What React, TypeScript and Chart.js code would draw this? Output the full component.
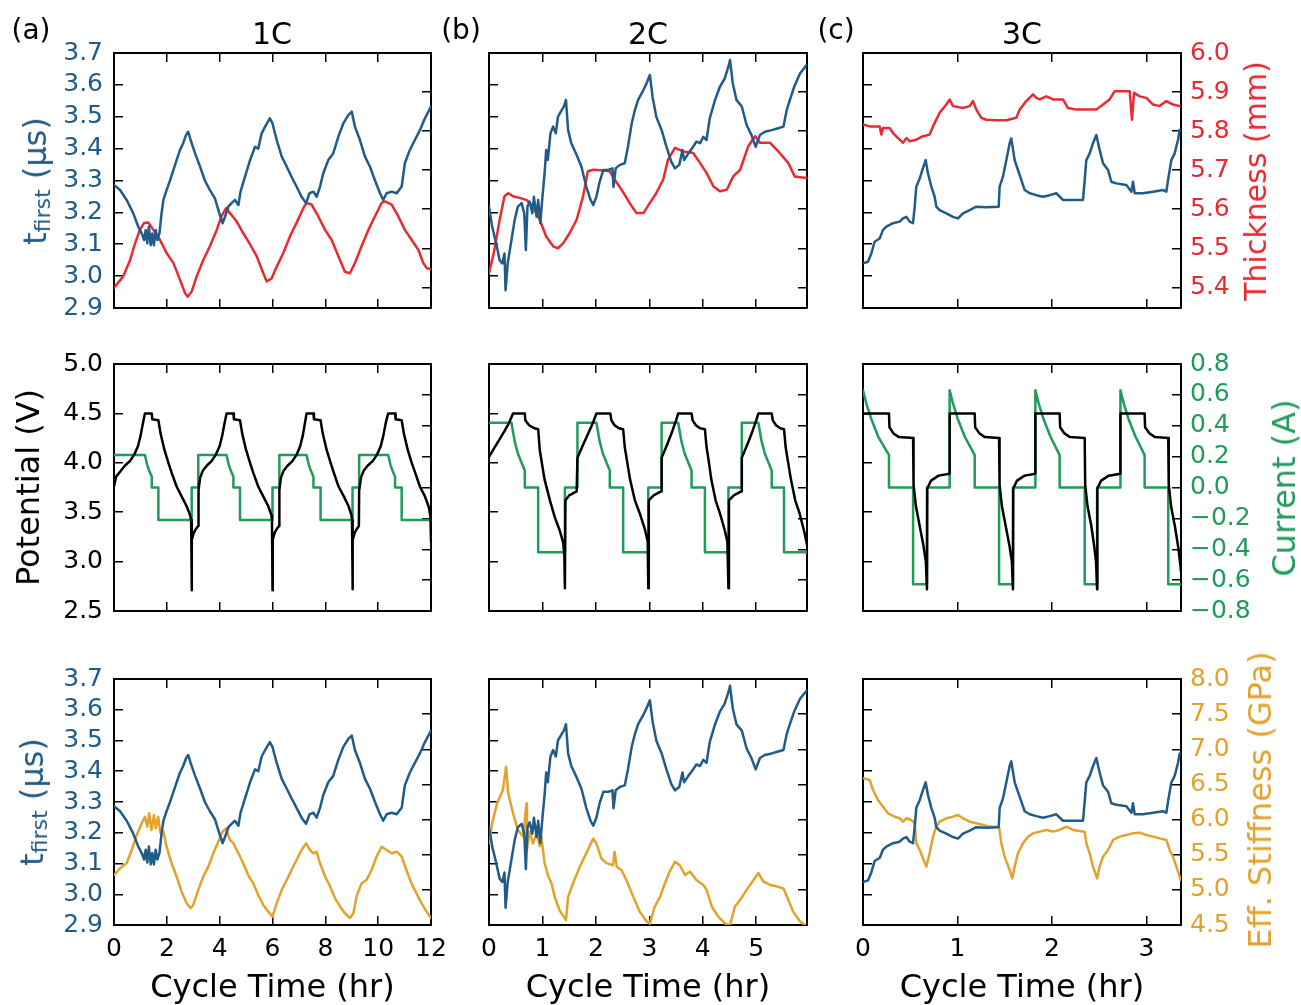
import React, { useEffect, useRef } from 'react';
import { Chart, registerables } from 'chart.js';

Chart.register(...registerables);

const FONT = "'DejaVu Sans', 'Bitstream Vera Sans', sans-serif";
const BLUE = '#215b88';
const RED = '#ea2a30';
const GREEN = '#1f9b5a';
const ORANGE = '#e3a22c';
const BLACK = '#000000';

type P = [number, number][];

// ---------- axis ranges [min, max, step] ----------
const tFirstRange = [2.9, 3.7, 0.1];
const thicknessRange = [5.347, 6.0, 0.1];
const potentialRange = [2.5, 5.0, 0.5];
const currentRange = [-0.8, 0.8, 0.2];
const stiffnessRange = [4.5, 8.0, 0.5];
const time1C = [0, 12, 2];
const time2C = [0, 5.95, 1];
const time3C = [0, 3.365, 1];

// ---------- 1C ----------
const tFirst1C: P = [
  [0, 3.286], [0.23, 3.27], [0.48, 3.239], [0.73, 3.197], [0.92, 3.155], [1.05, 3.134], [1.14, 3.113],
  [1.2, 3.145], [1.26, 3.103], [1.32, 3.155], [1.39, 3.097], [1.45, 3.134], [1.51, 3.097], [1.58, 3.145],
  [1.64, 3.113], [1.72, 3.134], [1.8, 3.197], [1.87, 3.239], [1.99, 3.27], [2.12, 3.3], [2.25, 3.333],
  [2.37, 3.364], [2.5, 3.396], [2.62, 3.417], [2.73, 3.443], [2.81, 3.453], [2.9, 3.427], [3.07, 3.385],
  [3.26, 3.343], [3.44, 3.3], [3.63, 3.27], [3.82, 3.244], [3.99, 3.197], [4.11, 3.166], [4.2, 3.186],
  [4.33, 3.218], [4.45, 3.229], [4.58, 3.239], [4.71, 3.223], [4.79, 3.265], [4.96, 3.312], [5.15, 3.364],
  [5.34, 3.406], [5.46, 3.4], [5.59, 3.448], [5.72, 3.469], [5.9, 3.495], [6.0, 3.479], [6.16, 3.427],
  [6.35, 3.375], [6.54, 3.343], [6.72, 3.312], [6.91, 3.281], [7.1, 3.249], [7.27, 3.229], [7.4, 3.26],
  [7.55, 3.265], [7.67, 3.249], [7.8, 3.281], [7.92, 3.322], [8.11, 3.364], [8.3, 3.385], [8.49, 3.437],
  [8.68, 3.479], [8.87, 3.505], [9.0, 3.516], [9.12, 3.469], [9.31, 3.427], [9.5, 3.375], [9.69, 3.343],
  [9.88, 3.3], [10.07, 3.26], [10.19, 3.239], [10.32, 3.26], [10.51, 3.265], [10.7, 3.26], [10.89, 3.281],
  [11.01, 3.354], [11.2, 3.396], [11.39, 3.427], [11.58, 3.458], [11.77, 3.495], [12.0, 3.532],
];

const thickness1C: P = [
  [0, 5.399], [0.35, 5.428], [0.61, 5.47], [0.8, 5.513], [0.98, 5.547], [1.14, 5.565], [1.3, 5.566],
  [1.49, 5.547], [1.74, 5.521], [1.99, 5.488], [2.25, 5.462], [2.5, 5.419], [2.69, 5.385], [2.79, 5.376],
  [2.94, 5.389], [3.13, 5.428], [3.38, 5.47], [3.63, 5.505], [3.89, 5.547], [4.07, 5.582], [4.24, 5.603],
  [4.39, 5.59], [4.64, 5.569], [4.89, 5.539], [5.15, 5.51], [5.4, 5.48], [5.65, 5.436], [5.78, 5.415],
  [5.97, 5.423], [6.16, 5.453], [6.41, 5.488], [6.66, 5.53], [6.91, 5.565], [7.17, 5.603], [7.29, 5.616],
  [7.48, 5.612], [7.73, 5.582], [7.99, 5.547], [8.24, 5.521], [8.49, 5.48], [8.74, 5.44], [8.93, 5.436],
  [9.12, 5.462], [9.37, 5.505], [9.63, 5.547], [9.88, 5.582], [10.13, 5.616], [10.26, 5.62], [10.51, 5.612],
  [10.76, 5.582], [11.01, 5.547], [11.27, 5.521], [11.52, 5.496], [11.71, 5.462], [11.84, 5.449], [12.0, 5.447],
];

const potential1C: P = [
  [0, 3.76], [0.08, 3.86], [0.26, 3.92], [0.41, 3.97], [0.61, 4.02], [0.76, 4.08], [0.91, 4.17], [1.01, 4.28],
  [1.11, 4.42], [1.17, 4.5], [1.43, 4.5], [1.45, 4.44], [1.68, 4.43], [1.76, 4.3], [1.91, 4.13], [2.06, 4.0],
  [2.18, 3.9], [2.37, 3.76], [2.56, 3.66], [2.75, 3.56], [2.88, 3.47], [2.92, 3.42], [2.94, 2.71],
  [2.95, 3.22], [3.02, 3.29], [3.1, 3.33], [3.19, 3.36], [3.2, 3.72], [3.26, 3.85], [3.36, 3.92], [3.51, 3.97],
  [3.7, 4.02], [3.85, 4.08], [4.0, 4.17], [4.1, 4.28], [4.2, 4.42], [4.26, 4.5], [4.52, 4.5], [4.54, 4.44],
  [4.77, 4.43], [4.85, 4.3], [5.0, 4.13], [5.15, 4.0], [5.27, 3.9], [5.46, 3.76], [5.65, 3.66], [5.84, 3.56],
  [5.96, 3.47], [5.98, 3.42], [6.0, 2.71],
  [6.01, 3.22], [6.08, 3.29], [6.16, 3.33], [6.25, 3.36], [6.26, 3.72], [6.32, 3.85], [6.42, 3.92], [6.57, 3.97],
  [6.76, 4.02], [6.91, 4.08], [7.05, 4.17], [7.15, 4.28], [7.24, 4.42], [7.29, 4.5], [7.55, 4.5], [7.57, 4.44],
  [7.82, 4.43], [7.9, 4.3], [8.05, 4.13], [8.2, 4.0], [8.32, 3.9], [8.5, 3.76], [8.7, 3.66], [8.88, 3.56],
  [8.99, 3.47], [9.01, 3.42], [9.03, 2.72],
  [9.04, 3.22], [9.11, 3.29], [9.19, 3.33], [9.27, 3.36], [9.28, 3.72], [9.35, 3.85], [9.45, 3.92], [9.6, 3.97],
  [9.8, 4.02], [9.95, 4.08], [10.1, 4.17], [10.2, 4.28], [10.3, 4.42], [10.38, 4.5], [10.64, 4.5], [10.66, 4.44],
  [10.89, 4.43], [10.97, 4.3], [11.12, 4.13], [11.27, 4.0], [11.4, 3.9], [11.58, 3.76], [11.77, 3.66],
  [11.92, 3.55], [11.98, 3.45], [12.0, 3.2],
];

const current1C: P = [
  [0, 0.21], [1.17, 0.21], [1.25, 0.15], [1.33, 0.11], [1.43, 0.07], [1.43, 0], [1.68, 0], [1.68, -0.21],
  [2.94, -0.21], [2.94, 0], [3.19, 0], [3.19, 0.21], [4.26, 0.21], [4.34, 0.15], [4.42, 0.11], [4.52, 0.07],
  [4.52, 0], [4.77, 0], [4.77, -0.21], [6.0, -0.21], [6.0, 0], [6.26, 0], [6.26, 0.21], [7.29, 0.21],
  [7.37, 0.15], [7.45, 0.11], [7.55, 0.07], [7.55, 0], [7.82, 0], [7.82, -0.21], [9.03, -0.21], [9.03, 0],
  [9.28, 0], [9.28, 0.21], [10.38, 0.21], [10.46, 0.15], [10.54, 0.11], [10.64, 0.07], [10.64, 0],
  [10.89, 0], [10.89, -0.21], [12.0, -0.21],
];

const stiffness1C: P = [
  [0, 5.21], [0.23, 5.307], [0.48, 5.378], [0.67, 5.567], [0.86, 5.78], [1.05, 5.947], [1.17, 6.04],
  [1.26, 5.9], [1.33, 6.09], [1.42, 5.852], [1.51, 6.065], [1.58, 5.876], [1.67, 6.04], [1.76, 5.804],
  [1.87, 5.83], [1.99, 5.614], [2.18, 5.378], [2.37, 5.19], [2.56, 4.974], [2.75, 4.81], [2.9, 4.737],
  [3.0, 4.786], [3.19, 5.0], [3.38, 5.19], [3.57, 5.33], [3.76, 5.52], [3.95, 5.686], [4.11, 5.83],
  [4.24, 5.876], [4.39, 5.71], [4.52, 5.66], [4.71, 5.52], [4.89, 5.378], [5.08, 5.21], [5.27, 5.093],
  [5.46, 4.927], [5.65, 4.786], [5.84, 4.69], [6.0, 4.62], [6.16, 4.81], [6.35, 5.0], [6.54, 5.14],
  [6.72, 5.283], [6.91, 5.425], [7.1, 5.567], [7.27, 5.662], [7.42, 5.567], [7.55, 5.52], [7.67, 5.543],
  [7.8, 5.378], [7.99, 5.19], [8.18, 5.047], [8.37, 4.88], [8.56, 4.763], [8.74, 4.667], [8.93, 4.6],
  [9.06, 4.667], [9.18, 4.903], [9.37, 5.093], [9.56, 5.14], [9.75, 5.283], [9.94, 5.472], [10.13, 5.614],
  [10.32, 5.567], [10.51, 5.52], [10.7, 5.543], [10.89, 5.472], [11.07, 5.283], [11.26, 5.093],
  [11.45, 4.95], [11.64, 4.81], [11.83, 4.69], [12.0, 4.6],
];

// ---------- 2C ----------
const tFirst2C: P = [
  [0, 3.218], [0.06, 3.155], [0.12, 3.113], [0.2, 3.05], [0.25, 3.04], [0.29, 3.071], [0.31, 2.956],
  [0.35, 3.04], [0.42, 3.113], [0.48, 3.176], [0.54, 3.218], [0.61, 3.229], [0.66, 3.197], [0.69, 3.082],
  [0.72, 3.218], [0.76, 3.234], [0.81, 3.197], [0.84, 3.249], [0.89, 3.186], [0.92, 3.239], [0.96, 3.166],
  [1.0, 3.249], [1.04, 3.322], [1.07, 3.396], [1.1, 3.364], [1.15, 3.448], [1.2, 3.469], [1.25, 3.448],
  [1.29, 3.5], [1.36, 3.521], [1.4, 3.532], [1.44, 3.553], [1.48, 3.458], [1.54, 3.417], [1.64, 3.38],
  [1.73, 3.343], [1.82, 3.281], [1.9, 3.239], [1.95, 3.223], [2.01, 3.249], [2.07, 3.296], [2.14, 3.333],
  [2.23, 3.333], [2.31, 3.338], [2.33, 3.28], [2.37, 3.338], [2.45, 3.349], [2.54, 3.354], [2.6, 3.406],
  [2.67, 3.479], [2.73, 3.521], [2.79, 3.553], [2.89, 3.584], [2.95, 3.606], [3.01, 3.631], [3.06, 3.563],
  [3.13, 3.5], [3.23, 3.458], [3.32, 3.406], [3.41, 3.359], [3.48, 3.338], [3.56, 3.349], [3.62, 3.396],
  [3.65, 3.364], [3.73, 3.385], [3.82, 3.406], [3.88, 3.422], [3.95, 3.417], [4.01, 3.437], [4.07, 3.427],
  [4.13, 3.495], [4.23, 3.553], [4.32, 3.594], [4.41, 3.62], [4.48, 3.657], [4.51, 3.678], [4.56, 3.606],
  [4.63, 3.553], [4.73, 3.532], [4.82, 3.474], [4.91, 3.443], [4.99, 3.406], [5.07, 3.443], [5.16, 3.453],
  [5.29, 3.458], [5.41, 3.464], [5.51, 3.469], [5.57, 3.521], [5.63, 3.553], [5.71, 3.594], [5.82, 3.636],
  [5.94, 3.662],
];

const thickness2C: P = [
  [0, 5.436], [0.09, 5.488], [0.2, 5.573], [0.29, 5.633], [0.36, 5.641], [0.45, 5.633], [0.57, 5.629],
  [0.7, 5.624], [0.82, 5.607], [0.95, 5.573], [1.07, 5.53], [1.2, 5.505], [1.29, 5.5], [1.39, 5.513],
  [1.51, 5.539], [1.64, 5.573], [1.76, 5.633], [1.85, 5.697], [1.95, 5.701], [2.14, 5.699], [2.26, 5.697],
  [2.35, 5.676], [2.48, 5.65], [2.63, 5.616], [2.76, 5.59], [2.89, 5.59], [3.01, 5.616], [3.13, 5.641],
  [3.26, 5.676], [3.35, 5.727], [3.48, 5.757], [3.63, 5.748], [3.82, 5.744], [3.95, 5.718], [4.07, 5.693],
  [4.2, 5.658], [4.32, 5.646], [4.45, 5.65], [4.57, 5.684], [4.7, 5.701], [4.85, 5.761], [4.98, 5.787],
  [5.07, 5.77], [5.26, 5.77], [5.44, 5.744], [5.6, 5.718], [5.72, 5.684], [5.94, 5.68],
];

const potential2C: P = [
  [0, 4.06], [0.1, 4.15], [0.2, 4.24], [0.3, 4.33], [0.38, 4.41], [0.45, 4.5], [0.67, 4.5], [0.68, 4.43],
  [0.75, 4.38], [0.85, 4.35], [0.92, 4.34], [0.95, 4.13], [1.0, 3.96], [1.04, 3.83], [1.14, 3.62],
  [1.23, 3.45], [1.32, 3.32], [1.39, 3.19], [1.41, 3.05], [1.42, 2.73],
  [1.43, 3.62], [1.5, 3.67], [1.64, 3.71],
  [1.655, 4.05], [1.75, 4.17], [1.85, 4.29], [1.95, 4.41], [2.01, 4.5], [2.27, 4.5], [2.29, 4.43],
  [2.35, 4.38], [2.43, 4.35], [2.51, 4.34], [2.54, 4.16], [2.57, 4.06], [2.64, 3.83], [2.73, 3.62],
  [2.82, 3.49], [2.92, 3.32], [2.97, 3.2], [2.98, 2.73],
  [2.99, 3.62], [3.08, 3.67], [3.22, 3.71],
  [3.23, 4.05], [3.33, 4.18], [3.43, 4.32], [3.5, 4.43], [3.54, 4.5], [3.79, 4.5], [3.81, 4.43],
  [3.87, 4.38], [3.95, 4.35], [4.04, 4.34], [4.07, 4.16], [4.1, 4.06], [4.16, 3.83], [4.24, 3.62],
  [4.32, 3.49], [4.41, 3.32], [4.46, 3.2], [4.48, 2.73],
  [4.49, 3.62], [4.58, 3.67], [4.72, 3.71],
  [4.73, 4.05], [4.83, 4.18], [4.93, 4.32], [5.0, 4.43], [5.04, 4.5], [5.29, 4.5], [5.31, 4.43],
  [5.37, 4.38], [5.45, 4.35], [5.52, 4.34], [5.55, 4.16], [5.58, 4.06], [5.65, 3.83], [5.73, 3.62],
  [5.81, 3.49], [5.9, 3.3], [5.95, 3.17],
];

const current2C: P = [
  [0, 0.42], [0.42, 0.42], [0.48, 0.3], [0.54, 0.22], [0.61, 0.16], [0.67, 0.11], [0.67, 0], [0.92, 0],
  [0.92, -0.42], [1.42, -0.42], [1.42, 0], [1.655, 0], [1.655, 0.42], [2.01, 0.42], [2.07, 0.3],
  [2.13, 0.22], [2.2, 0.16], [2.26, 0.11], [2.26, 0], [2.51, 0], [2.51, -0.42], [2.98, -0.42], [2.98, 0],
  [3.23, 0], [3.23, 0.42], [3.54, 0.42], [3.6, 0.3], [3.66, 0.22], [3.73, 0.16], [3.79, 0.11], [3.79, 0],
  [4.04, 0], [4.04, -0.42], [4.48, -0.42], [4.48, 0], [4.73, 0], [4.73, 0.42], [5.04, 0.42], [5.1, 0.3],
  [5.16, 0.22], [5.23, 0.16], [5.29, 0.11], [5.29, 0], [5.52, 0], [5.52, -0.42], [5.95, -0.42],
];

const stiffness2C: P = [
  [0, 5.66], [0.06, 5.95], [0.15, 6.23], [0.26, 6.42], [0.32, 6.75], [0.36, 6.37], [0.45, 6.09],
  [0.54, 5.85], [0.64, 5.76], [0.7, 6.23], [0.71, 5.57], [0.76, 5.83], [0.82, 5.66], [0.89, 5.8],
  [0.95, 5.62], [0.98, 5.76], [1.01, 5.57], [1.04, 5.38], [1.11, 5.19], [1.17, 5.09], [1.23, 4.9],
  [1.32, 4.71], [1.44, 4.57], [1.48, 4.9], [1.57, 5.09], [1.7, 5.33], [1.82, 5.52], [1.95, 5.73],
  [2.01, 5.66], [2.1, 5.45], [2.2, 5.38], [2.32, 5.35], [2.35, 5.54], [2.39, 5.33], [2.48, 5.28],
  [2.57, 5.14], [2.7, 4.9], [2.82, 4.69], [2.95, 4.55], [3.01, 4.52], [3.1, 4.76], [3.2, 4.9],
  [3.29, 5.09], [3.38, 5.26], [3.48, 5.4], [3.57, 5.35], [3.67, 5.21], [3.76, 5.26], [3.88, 5.14],
  [4.01, 5.07], [4.07, 5.0], [4.17, 4.76], [4.29, 4.62], [4.42, 4.52], [4.51, 4.5], [4.6, 4.76],
  [4.7, 4.86], [4.82, 5.0], [4.95, 5.14], [5.04, 5.24], [5.13, 5.12], [5.26, 5.07], [5.38, 5.05],
  [5.51, 5.02], [5.6, 4.86], [5.69, 4.69], [5.82, 4.55], [5.91, 4.5],
];

// ---------- 3C ----------
const tFirst3C: P = [
  [0, 3.04], [0.053, 3.045], [0.088, 3.071], [0.123, 3.108], [0.176, 3.118], [0.212, 3.145], [0.247, 3.155],
  [0.317, 3.166], [0.388, 3.171], [0.423, 3.181], [0.459, 3.186], [0.494, 3.171], [0.529, 3.166],
  [0.547, 3.218], [0.564, 3.281], [0.6, 3.306], [0.628, 3.333], [0.663, 3.364], [0.688, 3.322],
  [0.723, 3.281], [0.758, 3.249], [0.776, 3.218], [0.811, 3.207], [0.882, 3.197], [0.952, 3.186],
  [1.005, 3.181], [1.058, 3.197], [1.129, 3.207], [1.199, 3.218], [1.305, 3.216], [1.436, 3.218],
  [1.446, 3.281], [1.481, 3.312], [1.517, 3.364], [1.552, 3.417], [1.569, 3.432], [1.605, 3.364],
  [1.64, 3.333], [1.675, 3.302], [1.711, 3.27], [1.764, 3.26], [1.834, 3.254], [1.905, 3.249],
  [1.975, 3.254], [2.046, 3.26], [2.116, 3.239], [2.222, 3.239], [2.328, 3.239], [2.346, 3.302],
  [2.363, 3.364], [2.399, 3.385], [2.434, 3.417], [2.469, 3.443], [2.504, 3.396], [2.54, 3.354],
  [2.593, 3.333], [2.628, 3.296], [2.681, 3.291], [2.787, 3.286], [2.84, 3.265], [2.857, 3.296],
  [2.875, 3.26], [2.963, 3.26], [3.069, 3.265], [3.175, 3.27], [3.21, 3.265], [3.228, 3.302],
  [3.263, 3.364], [3.298, 3.385], [3.333, 3.427], [3.351, 3.458],
];

const thickness3C: P = [
  [0, 5.817], [0.071, 5.812], [0.176, 5.812], [0.194, 5.791], [0.212, 5.808], [0.282, 5.808], [0.317, 5.795],
  [0.388, 5.778], [0.423, 5.77], [0.459, 5.782], [0.494, 5.774], [0.564, 5.778], [0.635, 5.787],
  [0.705, 5.791], [0.741, 5.812], [0.811, 5.847], [0.882, 5.868], [0.917, 5.881], [0.952, 5.864],
  [1.058, 5.859], [1.129, 5.864], [1.164, 5.877], [1.199, 5.855], [1.252, 5.834], [1.305, 5.829],
  [1.411, 5.828], [1.517, 5.828], [1.622, 5.834], [1.658, 5.855], [1.728, 5.877], [1.799, 5.894],
  [1.834, 5.885], [1.869, 5.881], [1.94, 5.889], [2.011, 5.881], [2.116, 5.881], [2.169, 5.859],
  [2.257, 5.855], [2.363, 5.855], [2.469, 5.855], [2.54, 5.868], [2.61, 5.881], [2.663, 5.902],
  [2.751, 5.902], [2.822, 5.902], [2.846, 5.829], [2.868, 5.898], [2.928, 5.889], [2.998, 5.885],
  [3.069, 5.868], [3.139, 5.864], [3.21, 5.877], [3.28, 5.868], [3.351, 5.864],
];

const potential3C: P = [
  [0, 4.5], [0.275, 4.5], [0.28, 4.36], [0.32, 4.3], [0.38, 4.26], [0.53, 4.25], [0.535, 3.78], [0.56, 3.56],
  [0.6, 3.36], [0.64, 3.16], [0.665, 3.0], [0.677, 2.72], [0.68, 3.74], [0.72, 3.82], [0.8, 3.87],
  [0.917, 3.89], [0.917, 4.5], [1.182, 4.5], [1.187, 4.36], [1.23, 4.3], [1.29, 4.26], [1.44, 4.25],
  [1.445, 3.78], [1.47, 3.56], [1.51, 3.36], [1.55, 3.16], [1.575, 3.0], [1.587, 2.72], [1.59, 3.74],
  [1.63, 3.82], [1.71, 3.87], [1.824, 3.89], [1.824, 4.5], [2.081, 4.5], [2.086, 4.36], [2.13, 4.3],
  [2.19, 4.26], [2.346, 4.25], [2.351, 3.78], [2.376, 3.56], [2.416, 3.36], [2.446, 3.16], [2.466, 3.0],
  [2.477, 2.72], [2.48, 3.74], [2.52, 3.82], [2.6, 3.87], [2.724, 3.89], [2.724, 4.5], [2.98, 4.5],
  [2.985, 4.36], [3.03, 4.3], [3.09, 4.26], [3.23, 4.25], [3.235, 3.78], [3.26, 3.56], [3.3, 3.36],
  [3.34, 3.12], [3.365, 2.9],
];

const current3C: P = [
  [0, 0.63], [0.035, 0.545], [0.09, 0.44], [0.16, 0.33], [0.275, 0.21], [0.275, 0], [0.53, 0], [0.53, -0.627],
  [0.677, -0.627], [0.677, 0], [0.917, 0], [0.917, 0.63], [0.952, 0.545], [1.005, 0.44], [1.076, 0.33],
  [1.182, 0.21], [1.182, 0], [1.44, 0], [1.44, -0.627], [1.587, -0.627], [1.587, 0], [1.824, 0],
  [1.824, 0.63], [1.859, 0.545], [1.912, 0.44], [1.983, 0.33], [2.081, 0.21], [2.081, 0], [2.346, 0],
  [2.346, -0.627], [2.477, -0.627], [2.477, 0], [2.724, 0], [2.724, 0.63], [2.759, 0.545], [2.812, 0.44],
  [2.883, 0.33], [2.98, 0.21], [2.98, 0], [3.23, 0], [3.23, -0.627], [3.365, -0.627],
];

const stiffness3C: P = [
  [0, 6.587], [0.07, 6.563], [0.106, 6.421], [0.159, 6.279], [0.212, 6.184], [0.265, 6.089], [0.335, 6.041],
  [0.388, 6.018], [0.423, 5.97], [0.459, 6.018], [0.511, 5.994], [0.547, 5.947], [0.564, 5.662],
  [0.6, 5.567], [0.642, 5.425], [0.67, 5.33], [0.705, 5.52], [0.741, 5.757], [0.776, 5.899], [0.811, 5.97],
  [0.882, 6.018], [0.952, 6.041], [1.005, 6.065], [1.058, 6.018], [1.129, 5.97], [1.199, 5.947],
  [1.27, 5.923], [1.34, 5.899], [1.439, 5.899], [1.464, 5.662], [1.499, 5.472], [1.552, 5.283],
  [1.58, 5.164], [1.605, 5.33], [1.64, 5.52], [1.693, 5.662], [1.746, 5.757], [1.799, 5.804],
  [1.869, 5.828], [1.94, 5.852], [2.011, 5.828], [2.081, 5.852], [2.152, 5.899], [2.222, 5.852],
  [2.346, 5.828], [2.363, 5.662], [2.399, 5.52], [2.434, 5.33], [2.477, 5.164], [2.504, 5.33],
  [2.54, 5.472], [2.593, 5.567], [2.646, 5.71], [2.716, 5.757], [2.787, 5.781], [2.857, 5.804],
  [2.928, 5.814], [2.998, 5.781], [3.069, 5.757], [3.139, 5.733], [3.21, 5.71], [3.245, 5.567],
  [3.28, 5.472], [3.316, 5.33], [3.362, 5.14],
];

// ---------- layout ----------
type AxisCfg = { range: number[]; color: string; labels: boolean };
type Series = { data: P; axis: 'y' | 'y2'; color: string };
type Spec = {
  key: string;
  x: number; y: number; w: number; h: number;
  l: number; r: number; t: number; b: number;
  time: number[]; xLabels: boolean;
  left: AxisCfg; right: AxisCfg;
  leftTitle?: string;
  series: Series[];
};

const COLS = [
  { x: 0, w: 460, l: 114, r: 29 },
  { x: 460, w: 376, l: 29, r: 29 },
  { x: 836, w: 465, l: 27, r: 120 },
];
const ROWS = [
  { y: 0, h: 336, t: 53, b: 28 },
  { y: 336, h: 304, t: 28, b: 29 },
  { y: 640, h: 365, t: 39, b: 80 },
];

const TIMES = [time1C, time2C, time3C];
const ROW_DATA: { s: [P, P][]; lr: [number[], number[]]; lc: string; rc: string; c1: string; c2: string }[] = [
  { s: [[tFirst1C, thickness1C], [tFirst2C, thickness2C], [tFirst3C, thickness3C]], lr: [tFirstRange, thicknessRange], lc: BLUE, rc: RED, c1: BLUE, c2: RED },
  { s: [[potential1C, current1C], [potential2C, current2C], [potential3C, current3C]], lr: [potentialRange, currentRange], lc: BLACK, rc: GREEN, c1: BLACK, c2: GREEN },
  { s: [[tFirst1C, stiffness1C], [tFirst2C, stiffness2C], [tFirst3C, stiffness3C]], lr: [tFirstRange, stiffnessRange], lc: BLUE, rc: ORANGE, c1: BLUE, c2: ORANGE },
];

const SPECS: Spec[] = [];
ROWS.forEach((row, ri) => {
  COLS.forEach((col, ci) => {
    const rd = ROW_DATA[ri];
    SPECS.push({
      key: `p${ri}${ci}`,
      x: col.x, y: row.y, w: col.w, h: row.h,
      l: col.l, r: col.r, t: row.t, b: row.b,
      time: TIMES[ci], xLabels: ri === 2,
      left: { range: rd.lr[0], color: rd.lc, labels: ci === 0 },
      right: { range: rd.lr[1], color: rd.rc, labels: ci === 2 },
      leftTitle: ri === 1 && ci === 0 ? 'Potential (V)' : undefined,
      series: [
        { data: rd.s[ci][0], axis: 'y', color: rd.c1 },
        { data: rd.s[ci][1], axis: 'y2', color: rd.c2 },
      ],
    });
  });
});

const fmtY = (v: number) => (v < -1e-9 ? '\u2212' : '') + Math.abs(v).toFixed(1);

function gridOpts() {
  return {
    display: true, drawOnChartArea: false, drawTicks: true, tickLength: -9,
    tickWidth: 1.5, lineWidth: 1.5, color: '#000', tickColor: '#000',
  };
}
function borderOpts() {
  return { display: true, color: '#000', width: 2 };
}
function clearPad(sc: any) {
  sc.paddingTop = 0;
  sc.paddingBottom = 0;
  sc.paddingLeft = 0;
  sc.paddingRight = 0;
}

function buildConfig(s: Spec): any {
  const tickFont = { family: FONT, size: 25 };
  const yAxis = (pos: 'left' | 'right', a: AxisCfg, width: number, title?: string) => ({
    type: 'linear', position: pos, min: a.range[0], max: a.range[1],
    grid: gridOpts(), border: borderOpts(),
    ticks: {
      display: a.labels, stepSize: a.range[2], autoSkip: false, includeBounds: false, maxRotation: 0,
      color: a.color, font: tickFont, padding: pos === 'left' ? 20 : 18, callback: (v: any) => fmtY(Number(v)),
    },
    title: title
      ? { display: true, text: title, color: '#000', font: { family: FONT, size: 32, lineHeight: 1 }, padding: { top: 15, bottom: 0 } }
      : { display: false },
    afterFit: (sc: any) => { sc.width = width; clearPad(sc); },
  });
  return {
    type: 'line',
    data: {
      datasets: s.series.map((se) => ({
        data: se.data.map(([x, y]) => ({ x, y })),
        xAxisID: 'x', yAxisID: se.axis,
        borderColor: se.color, backgroundColor: se.color,
        borderWidth: 2.5, pointRadius: 0, tension: 0, fill: false,
        borderJoinStyle: 'round', borderCapStyle: 'round',
      })),
    },
    options: {
      responsive: false, animation: false, devicePixelRatio: 1, events: [],
      layout: { padding: 0 },
      plugins: { legend: { display: false }, tooltip: { enabled: false }, title: { display: false } },
      scales: {
        x: {
          type: 'linear', position: 'bottom', min: s.time[0], max: s.time[1],
          grid: gridOpts(), border: borderOpts(),
          ticks: {
            display: s.xLabels, stepSize: s.time[2], autoSkip: false, includeBounds: false, maxRotation: 0,
            color: '#000', font: tickFont, padding: 18, callback: (v: any) => String(Math.round(Number(v))),
          },
          title: s.xLabels
            ? { display: true, text: 'Cycle Time (hr)', color: '#000', font: { family: FONT, size: 32, lineHeight: 1 }, padding: { top: 0, bottom: 0 } }
            : { display: false },
          afterFit: (sc: any) => { sc.height = s.b; clearPad(sc); },
        },
        xt: {
          type: 'linear', position: 'top', min: s.time[0], max: s.time[1],
          grid: gridOpts(), border: borderOpts(),
          ticks: { display: false, stepSize: s.time[2], includeBounds: false },
          afterFit: (sc: any) => { sc.height = s.t; clearPad(sc); },
        },
        y: yAxis('left', s.left, s.l, s.leftTitle),
        y2: yAxis('right', s.right, s.r),
      },
    },
  };
}

function Panel({ spec }: { spec: Spec }) {
  const ref = useRef<HTMLCanvasElement | null>(null);
  useEffect(() => {
    if (!ref.current) return;
    const chart = new Chart(ref.current, buildConfig(spec));
    return () => chart.destroy();
  }, [spec]);
  return (
    <canvas
      ref={ref}
      width={spec.w}
      height={spec.h}
      style={{ position: 'absolute', left: spec.x, top: spec.y, width: spec.w, height: spec.h }}
    />
  );
}

function Label({ cx, cy, size, color, rotate, children }: { cx: number; cy: number; size: number; color: string; rotate?: boolean; children: React.ReactNode }) {
  return (
    <div
      style={{
        position: 'absolute', left: cx, top: cy,
        transform: `translate(-50%, -50%)${rotate ? ' rotate(-90deg)' : ''}`,
        fontFamily: FONT, fontSize: size, color, lineHeight: 1, whiteSpace: 'nowrap',
      }}
    >
      {children}
    </div>
  );
}

function TFirst() {
  return (
    <span>
      t<span style={{ fontSize: 22, position: 'relative', top: 4 }}>first</span> (μs)
    </span>
  );
}

export default function App() {
  return (
    <div style={{ position: 'fixed', left: 0, top: 0, width: 1301, height: 1005, background: '#fff', overflow: 'hidden' }}>
      {SPECS.map((s) => (
        <Panel key={s.key} spec={s} />
      ))}
      <Label cx={31} cy={30} size={28} color="#000">(a)</Label>
      <Label cx={272} cy={34} size={30} color="#000">1C</Label>
      <Label cx={461} cy={30} size={28} color="#000">(b)</Label>
      <Label cx={648} cy={34} size={30} color="#000">2C</Label>
      <Label cx={836} cy={30} size={28} color="#000">(c)</Label>
      <Label cx={1022} cy={34} size={30} color="#000">3C</Label>
      <Label cx={35} cy={181} size={32} color={BLUE} rotate><TFirst /></Label>
      <Label cx={32} cy={802} size={32} color={BLUE} rotate><TFirst /></Label>
      <Label cx={1256} cy={181} size={30} color={RED} rotate>Thickness (mm)</Label>
      <Label cx={1284} cy={488} size={32} color={GREEN} rotate>Current (A)</Label>
      <Label cx={1260} cy={800} size={32} color={ORANGE} rotate>Eff. Stiffness (GPa)</Label>
    </div>
  );
}
